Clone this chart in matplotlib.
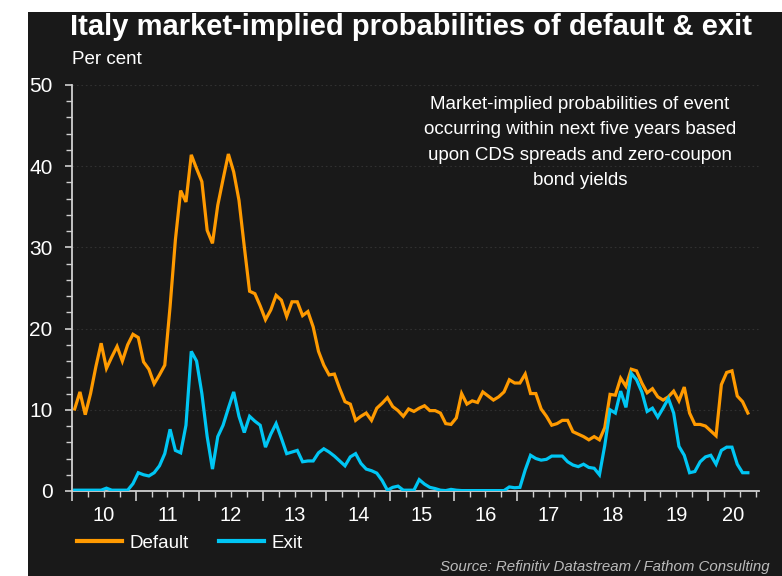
import numpy as np
import matplotlib
matplotlib.use("Agg")
import matplotlib.pyplot as plt
from matplotlib.lines import Line2D
from matplotlib.patches import Rectangle

# ---------------- data (monthly, Jan 2010 .. Aug 2020) ----------------
start_year = 2010
default_prob = [
    10.1, 12.2, 9.4, 12.0, 15.3, 18.2, 15.1, 16.5, 17.8, 16.0, 18.0, 19.3,
    18.9, 15.9, 15.0, 13.2, 14.3, 15.5, 22.7, 30.9, 37.0, 35.6, 41.4, 39.7,
    38.1, 32.1, 30.5, 35.2, 38.4, 41.5, 39.3, 35.8, 30.1, 24.6, 24.3, 22.8,
    21.1, 22.3, 24.1, 23.5, 21.5, 23.3, 23.3, 21.6, 22.1, 20.2, 17.2, 15.5,
    14.3, 14.4, 12.6, 11.0, 10.7, 8.7, 9.2, 9.6, 8.7, 10.2, 10.8, 11.5,
    10.4, 9.9, 9.2, 10.1, 9.8, 10.2, 10.5, 9.9, 9.9, 9.6, 8.3, 8.2,
    9.0, 12.0, 10.7, 11.1, 10.9, 12.2, 11.7, 11.2, 11.6, 12.2, 13.7, 13.3,
    13.3, 14.4, 12.0, 12.0, 10.1, 9.2, 8.1, 8.3, 8.7, 8.7, 7.3, 7.0,
    6.7, 6.3, 6.7, 6.3, 7.8, 11.9, 11.8, 13.9, 12.9, 15.0, 14.8, 13.3,
    12.1, 12.6, 11.6, 11.2, 11.6, 12.3, 11.1, 12.8, 9.6, 8.2, 8.2, 8.0,
    7.4, 6.8, 13.1, 14.6, 14.8, 11.7, 11.0, 9.6,
]
exit_prob = [
    0.1, 0.1, 0.1, 0.1, 0.1, 0.1, 0.35, 0.1, 0.1, 0.1, 0.1, 0.9,
    2.25, 2.0, 1.85, 2.25, 3.1, 4.6, 7.6, 5.0, 4.7, 8.1, 17.2, 16.0,
    12.0, 6.7, 2.7, 6.7, 8.1, 10.2, 12.2, 9.2, 7.2, 9.2, 8.6, 8.1,
    5.4, 7.0, 8.3, 6.5, 4.6, 4.8, 5.0, 3.6, 3.7, 3.7, 4.7, 5.2,
    4.8, 4.3, 3.7, 3.1, 4.2, 4.6, 3.4, 2.7, 2.5, 2.2, 1.3, 0.1,
    0.45, 0.6, 0.1, 0.1, 0.1, 1.4, 0.85, 0.45, 0.3, 0.1, 0.05, 0.2,
    0.1, 0.05, 0.05, 0.05, 0.05, 0.05, 0.05, 0.05, 0.05, 0.05, 0.5, 0.4,
    0.45, 2.6, 4.4, 4.0, 3.8, 3.9, 4.3, 4.3, 4.3, 3.6, 3.2, 3.0,
    3.3, 2.9, 2.8, 2.0, 5.6, 10.0, 9.6, 12.3, 10.3, 14.5, 13.7, 12.2,
    9.8, 10.2, 9.1, 10.2, 11.4, 9.6, 5.5, 4.4, 2.25, 2.4, 3.6, 4.2,
    4.4, 3.3, 5.0, 5.4, 5.4, 3.3, 2.25, 2.25,
]
year_labels = ["10", "11", "12", "13", "14", "15", "16", "17", "18", "19", "20"]
series_names = ["Default", "Exit"]

# ---------------- styling ----------------
BG = "#191919"
ORANGE = "#FF9A00"
CYAN = "#00C6F4"
WHITE = "#FFFFFF"
AXIS = "#D0D0D0"

plt.rcParams["font.family"] = ["Liberation Sans", "DejaVu Sans"]

W, H = 782, 576
fig = plt.figure(figsize=(W / 100, H / 100), dpi=100)
fig.patch.set_facecolor("white")
fig.add_artist(Rectangle((28 / W, 0), 1 - 28 / W, 564 / H, transform=fig.transFigure,
                         facecolor=BG, edgecolor="none", zorder=-10))

# axes placement
x0_px, x1_px = 72, 759
y0_px, y1_px = 491, 85
ax = fig.add_axes([x0_px / W, (H - y0_px) / H, (x1_px - x0_px) / W, (y0_px - y1_px) / H])
ax.set_facecolor(BG)

n = len(default_prob)
t = start_year + (np.arange(n) + 0.5) / 12.0
ax.plot(t, default_prob, color=ORANGE, lw=2.3, solid_joinstyle="miter", zorder=3)
ax.plot(t, exit_prob, color=CYAN, lw=2.3, solid_joinstyle="miter", zorder=3)

ax.set_xlim(2010.0, 2020.8)
ax.set_ylim(0, 50)

for s in ["top", "right"]:
    ax.spines[s].set_visible(False)
for s in ["left", "bottom"]:
    ax.spines[s].set_color(AXIS)
    ax.spines[s].set_linewidth(1.3)

# y ticks
ax.set_yticks(np.arange(0, 51, 10))
ax.set_yticks(np.arange(0, 51, 2), minor=True)
ax.tick_params(axis="y", which="major", direction="out", length=5, width=1.2, color=AXIS,
               labelsize=15, labelcolor=WHITE, pad=9)
ax.tick_params(axis="y", which="minor", direction="out", length=4, width=1.0, color=AXIS)
ax.grid(axis="y", which="major", color="#313131", lw=0.8, ls=(0, (1.5, 2.5)))
ax.set_axisbelow(True)

# x ticks: years (major), quarters (minor), labels at mid-year
years = np.arange(2010, 2021)
ax.set_xticks(years)
ax.set_xticklabels([])
ax.set_xticks(np.arange(2010, 2020.8, 0.25), minor=True)
ax.tick_params(axis="x", which="major", direction="out", length=7, width=1.2, color=AXIS)
ax.tick_params(axis="x", which="minor", direction="out", length=4, width=1.0, color=AXIS)

sec = ax.secondary_xaxis("bottom")
mid = [y + 0.5 for y in years[:-1]] + [2020.4]
sec.set_xticks(mid)
sec.set_xticklabels(year_labels)
sec.tick_params(axis="x", length=0, labelsize=14.5, labelcolor=WHITE, pad=11)
sec.spines["bottom"].set_visible(False)

# Title
fig.text(411 / W, 1 - 35 / H, "Italy market-implied probabilities of default & exit",
         ha="center", va="baseline", color=WHITE, fontsize=21, fontweight="bold")

fig.text(72 / W, 1 - 60 / H, "Per cent", ha="left", va="center", color=WHITE, fontsize=13.5)

# annotation
fig.text(580 / W, 1 - 142.5 / H,
         "Market-implied probabilities of event\noccurring within next five years based\n"
         "upon CDS spreads and zero-coupon\nbond yields",
         ha="center", va="center", color=WHITE, fontsize=13.5, linespacing=1.62)

# legend
handles = [Line2D([], [], color=ORANGE, lw=3), Line2D([], [], color=CYAN, lw=3)]
fig.legend(handles, series_names, loc="center left", bbox_to_anchor=(77 / W, 1 - 543 / H),
           ncol=2, frameon=False, fontsize=13.5, labelcolor=WHITE, handlelength=2.4,
           handletextpad=0.4, columnspacing=1.6, borderpad=0, borderaxespad=0)

fig.text(770 / W, 1 - 567 / H, "Source: Refinitiv Datastream / Fathom Consulting",
         ha="right", va="center", color="#BBBBBB", fontsize=10.8, style="italic")

fig.savefig("out.png", dpi=100, facecolor=fig.get_facecolor())
